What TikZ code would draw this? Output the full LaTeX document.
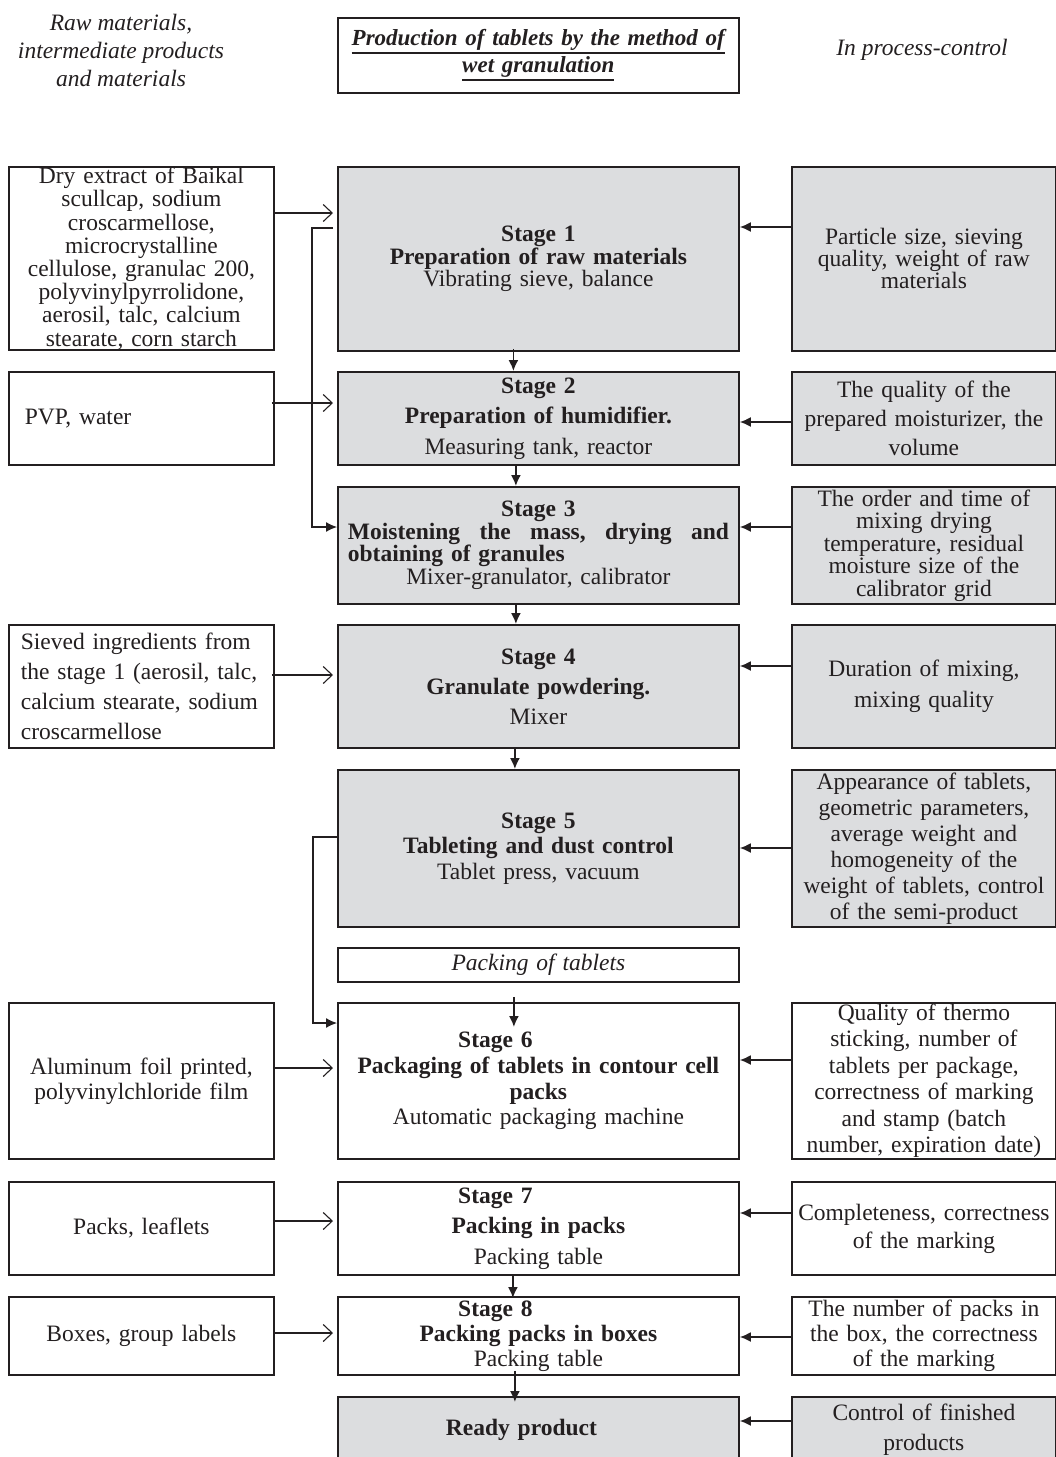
\documentclass[tikz,border=0pt]{standalone}
\usepackage{fontspec}
\setmainfont{Liberation Serif}
\usetikzlibrary{arrows.meta,calc}
\definecolor{boxgray}{RGB}{220,221,223}
\definecolor{ink}{RGB}{35,31,32}
\newcommand{\fsz}[1]{\fontsize{23.5}{#1}\selectfont}
\newcommand{\thickul}[1]{\leavevmode\vtop{\hbox{#1}\kern1.5pt\hrule height 2.2pt}}
\tikzset{
  base/.style={draw=ink, line width=1.8pt, text=ink, inner sep=0pt, anchor=north west, font={\fsz{24}}},
  grayb/.style={base, fill=boxgray},
  whiteb/.style={base, fill=white},
  lbox/.style={minimum width=265pt, text width=262pt, align=center},
  sbox/.style={minimum width=401pt, text width=395pt, align=center},
  rbox/.style={minimum width=264pt, text width=262pt, align=center},
  inarrow/.style={draw=ink, line width=1.1pt, -{Straight Barb[length=9pt,width=17pt,line width=1.1pt]}},
  ctrlarrow/.style={draw=ink, line width=1.7pt, -{Latex[length=11pt,width=10pt]}},
  flowarrow/.style={draw=ink, line width=1.7pt, -{Latex[length=11pt,width=10pt]}},
  bracket/.style={draw=ink, line width=1.2pt, -{Latex[length=11pt,width=10pt]}},
  headtxt/.style={text=ink, inner sep=0pt, align=center, font={\fsz{28}\itshape}},
}
\begin{document}
\begin{tikzpicture}[x=1pt,y=-1pt]
\useasboundingbox (0,0) rectangle (1056,1457);

% header
\node[headtxt] (hl) at (121,50) {Raw materials,\\intermediate products\\and materials};
\node[headtxt] (hr) at (922,50) {In process-control};
\node[base, draw=ink, line width=1.5pt, minimum width=401pt, minimum height=75pt, text width=395pt, align=center, font={\fontsize{23}{27}\selectfont\bfseries\itshape}] (title) at (337,17)
  {\thickul{Production of tablets by the method of}\\\thickul{wet granulation}};

% row 1
\node[whiteb, lbox, minimum height=183pt, font={\fsz{23.2}}] (L1) at (8,166)
  {Dry extract of Baikal\\scullcap, sodium\\croscarmellose,\\microcrystalline\\cellulose, granulac 200,\\polyvinylpyrrolidone,\\aerosil, talc, calcium\\stearate, corn starch};
\node[grayb, sbox, minimum height=184pt, font={\fsz{22.5}}] (S1) at (337,166)
  {\textbf{Stage 1}\\\textbf{Preparation of raw materials}\\Vibrating sieve, balance};
\node[grayb, rbox, minimum height=184pt, font={\fsz{22}}] (R1) at (791,166)
  {Particle size, sieving\\quality, weight of raw\\materials};

% row 2
\node[whiteb, minimum width=265pt, text width=233pt, align=left, minimum height=93pt] (L2) at (8,371) {PVP, water};
\node[grayb, sbox, minimum height=93pt, font={\fsz{30.5}}] (S2) at (337,371)
  {\textbf{Stage 2}\\\textbf{Preparation of humidifier.}\\Measuring tank, reactor};
\node[grayb, rbox, minimum height=93pt, font={\fsz{29}}] (R2) at (791,371)
  {The quality of the\\prepared moisturizer, the\\volume};

% row 3
\node[grayb, sbox, minimum height=117pt, font={\fsz{22.5}}] (S3) at (337,486)
  {\textbf{Stage 3}\\\leavevmode\hbox to 381pt{\bfseries Moistening\hfill the\hfill mass,\hfill drying\hfill and}\\\leavevmode\hbox to 381pt{\bfseries obtaining of granules\hfil}\\Mixer-granulator, calibrator};
\node[grayb, rbox, minimum height=117pt, font={\fsz{22.5}}] (R3) at (791,486)
  {The order and time of\\mixing drying\\temperature, residual\\moisture size of the\\calibrator grid};

% row 4
\node[whiteb, minimum width=265pt, text width=241pt, align=left, minimum height=123pt, font={\fsz{30}}] (L4) at (8,624)
  {Sieved ingredients from\\the stage 1 (aerosil, talc,\\calcium stearate, sodium\\croscarmellose};
\node[grayb, sbox, minimum height=123pt, font={\fsz{30}}] (S4) at (337,624)
  {\textbf{Stage 4}\\\textbf{Granulate powdering.}\\Mixer};
\node[grayb, rbox, minimum height=123pt, font={\fsz{31}}] (R4) at (791,624)
  {Duration of mixing,\\mixing quality};

% row 5
\node[grayb, sbox, minimum height=157pt, font={\fsz{25.5}}] (S5) at (337,769)
  {\textbf{Stage 5}\\\textbf{Tableting and dust control}\\Tablet press, vacuum};
\node[grayb, rbox, minimum height=157pt, font={\fsz{26}}] (R5) at (791,769)
  {Appearance of tablets,\\geometric parameters,\\average weight and\\homogeneity of the\\weight of tablets, control\\of the semi-product};

% packing
\node[whiteb, sbox, minimum height=34pt, font={\fsz{24}\itshape}] (pack) at (337,947) {Packing of tablets};

% row 6
\node[whiteb, lbox, minimum height=156pt, font={\fsz{25}}] (L6) at (8,1002)
  {Aluminum foil printed,\\polyvinylchloride film};
\node[whiteb, sbox, minimum height=156pt, font={\fsz{25.7}}] (S6) at (337,1002)
  {\textbf{Stage 6}\hspace*{86pt}\mbox{}\\\textbf{Packaging of tablets in contour cell}\\\textbf{packs}\\Automatic packaging machine};
\node[whiteb, rbox, minimum height=156pt, font={\fsz{26.5}}] (R6) at (791,1002)
  {Quality of thermo\\sticking, number of\\tablets per package,\\correctness of marking\\and stamp (batch\\number, expiration date)};

% row 7
\node[whiteb, lbox, minimum height=93pt] (L7) at (8,1181) {Packs, leaflets};
\node[whiteb, sbox, minimum height=93pt, font={\fsz{30.5}}] (S7) at (337,1181)
  {\textbf{Stage 7}\hspace*{86pt}\mbox{}\\\textbf{Packing in packs}\\Packing table};
\node[whiteb, rbox, minimum height=93pt, font={\fsz{28}}] (R7) at (791,1181)
  {Completeness, correctness\\of the marking};

% row 8
\node[whiteb, lbox, minimum height=78pt] (L8) at (8,1296) {Boxes, group labels};
\node[whiteb, sbox, minimum height=78pt, font={\fsz{25}}] (S8) at (337,1296)
  {\textbf{Stage 8}\hspace*{86pt}\mbox{}\\\textbf{Packing packs in boxes}\\Packing table};
\node[whiteb, rbox, minimum height=78pt, font={\fsz{25}}] (R8) at (791,1296)
  {The number of packs in\\the box, the correctness\\of the marking};

% row 9
\node[grayb, sbox, minimum height=66pt] (ready) at (337,1396)
  {\textbf{Ready product}\hspace*{34pt}\mbox{}};
\node[grayb, rbox, minimum height=66pt, font={\fsz{30}}] (R9) at (791,1396)
  {Control of finished\\products};

% input arrows
\draw[inarrow] ($(L1.north east)+(0,47)$) -- ($(S1.north west)+(-4,47)$);
\draw[inarrow] ($(L2.north east)+(-3,32)$) -- ($(S2.north west)+(-4,32)$);
\draw[inarrow] ($(L4.north east)+(-3,51)$) -- ($(S4.north west)+(-4,51)$);
\draw[inarrow] ($(L6.north east)+(0,66)$) -- ($(S6.north west)+(-4,66)$);
\draw[inarrow] ($(L7.north east)+(-2,40)$) -- ($(S7.north west)+(-4,40)$);
\draw[inarrow] ($(L8.north east)+(0,37)$) -- ($(S8.north west)+(-4,37)$);

% control arrows
\draw[ctrlarrow] ($(R1.north west)+(0,61)$) -- ($(S1.north east)+(0,61)$);
\draw[ctrlarrow] ($(R2.north west)+(0,51)$) -- ($(S2.north east)+(0,51)$);
\draw[ctrlarrow] ($(R3.north west)+(0,41)$) -- ($(S3.north east)+(0,41)$);
\draw[ctrlarrow] ($(R4.north west)+(0,42)$) -- ($(S4.north east)+(0,42)$);
\draw[ctrlarrow] ($(R5.north west)+(0,79)$) -- ($(S5.north east)+(0,79)$);
\draw[ctrlarrow] ($(R6.north west)+(0,58)$) -- ($(S6.north east)+(0,58)$);
\draw[ctrlarrow] ($(R7.north west)+(0,32)$) -- ($(S7.north east)+(0,32)$);
\draw[ctrlarrow] ($(R8.north west)+(0,41)$) -- ($(S8.north east)+(0,41)$);
\draw[ctrlarrow] ($(R9.north west)+(0,25)$) -- ($(ready.north east)+(0,25)$);

% flow arrows
\draw[flowarrow] ($(S1.south)+(-25,-3)$) -- ($(S2.north)+(-25,0)$);
\draw[flowarrow] ($(S2.south)+(-22.5,0)$) -- ($(S3.north)+(-22.5,0)$);
\draw[flowarrow] ($(S3.south)+(-22.5,0)$) -- ($(S4.north)+(-22.5,0)$);
\draw[flowarrow] ($(S4.south)+(-23.5,0)$) -- ($(S5.north)+(-23.5,0)$);
\draw[flowarrow] ($(pack.south)+(-24.5,14)$) -- ($(S6.north)+(-24.5,25)$);
\draw[flowarrow] ($(S7.south)+(-25.5,0)$) -- ($(S8.north)+(-25.5,2)$);
\draw[flowarrow] ($(S8.south)+(-23.5,-5)$) -- ($(ready.north)+(-23.5,6)$);

% brackets
\draw[bracket] ($(S1.north west)+(-4,62)$) -- ++(-21,0) |- ($(S3.north west)+(0,41)$);
\draw[bracket] ($(S5.north west)+(0,68)$) -- ++(-24,0) |- ($(S6.north west)+(0,21)$);
\end{tikzpicture}
\end{document}
